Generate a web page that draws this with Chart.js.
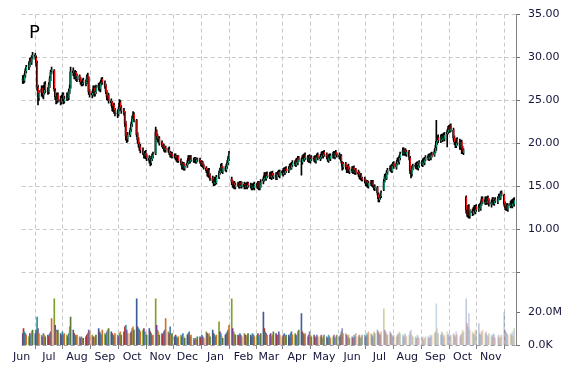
<!DOCTYPE html>
<html><head><meta charset="utf-8">
<script src="https://cdn.jsdelivr.net/npm/chart.js@4.4.1/dist/chart.umd.min.js"></script>
<style>html,body{margin:0;padding:0;background:#fff;}canvas{display:block;}</style>
</head><body>
<canvas id="c" width="570" height="370"></canvas>
<script>
const title = 'P';
const monthTickDays = [0,30,61,92,122,153,183,214,245,273,304,334,365,395,426,457,487,518];
const monthLabels = ['Jun','Jul','Aug','Sep','Oct','Nov','Dec','Jan','Feb','Mar','Apr','May','Jun','Jul','Aug','Sep','Oct','Nov'];
const priceTicks = [5,10,15,20,25,30,35];
const priceTickLabels = ['','10.00','15.00','20.00','25.00','30.00','35.00'];
const volumeTicks = [0,20];
const volumeTickLabels = ['0.0K','20.0M'];

const opens = [
27.3,27.7,27.3,27.9,28.4, 28.9,29.1,29.8,29.4,30.1, 30.3,30.0,29.4,26.5,25.3, 25.9,26.5,25.6,25.9,26.9,
26.2,26.0,26.8,27.6,28.4, 28.5,26.2,25.5,25.0,25.7, 25.2,24.8,25.3,25.7,24.9, 25.2,25.6,25.3,26.0,26.5,
28.5,28.1,27.8,28.3,27.5, 27.9,27.5,27.1,26.9,27.4, 27.0,27.2,27.9,27.6,26.1, 25.6,25.9,26.5,25.8,26.0,
26.5,26.9,26.3,27.0,27.5, 27.1,26.7,26.0,25.3,25.6, 25.0,24.8,24.0,24.5,23.9, 23.6,23.4,24.0,24.8,24.2,
23.8,23.5,22.4,20.9,20.5, 21.0,21.6,22.2,22.9,23.4, 22.7,21.1,20.5,19.9,19.6, 19.2,18.9,18.5,18.9,18.6,
18.3,18.1,17.7,18.2,18.5, 18.8,21.5,20.9,20.3,20.6, 20.1,19.8,19.7,19.2,19.5, 19.2,19.4,18.9,18.6,18.8,
18.5,18.6,18.4,18.0,18.5, 18.1,17.7,17.2,17.7,17.1, 17.4,17.7,18.4,17.9,18.5, 18.1,18.0,18.3,17.8,18.2,
18.1,17.9,17.5,17.8,17.5, 17.2,16.9,16.4,16.9,16.3, 16.0,15.7,15.3,15.9,15.4, 16.1,16.6,16.8,17.4,16.7,
17.1,16.9,17.3,17.7,18.2, 15.9,15.5,15.0,15.4,14.9, 15.3,15.3,14.9,15.5,15.0, 15.3,14.9,15.3,14.9,15.4,
15.0,15.2,14.8,15.2,14.8, 15.3,14.9,15.5,14.8,15.1, 15.6,15.8,16.4,15.9,16.5, 16.1,16.5,16.0,16.6,16.1,
16.4,15.9,16.5,16.7,16.2, 16.8,16.4,17.0,16.5,17.1, 16.8,17.0,17.5,17.1,17.5, 17.9,17.5,18.1,17.7,18.4,
18.0,17.8,18.5,18.1,18.7, 18.4,18.0,18.5,17.9,18.4, 18.1,18.4,17.9,18.5,18.7, 18.2,18.4,18.9,18.5,19.0,
18.8,18.5,18.0,18.6,18.2, 18.5,18.9,18.4,19.0,18.8, 18.7,18.3,18.6,17.8,17.2, 17.7,17.3,16.8,17.4,16.7,
17.1,16.7,17.2,16.6,17.0, 16.7,16.5,16.0,16.4,16.0, 15.9,15.7,15.2,15.6,15.0, 15.5,15.2,15.6,15.0,14.8,
14.9,14.1,13.4,13.8,13.9, 14.6,15.7,16.3,15.9,16.6, 17.0,17.3,16.8,17.5,17.7, 17.2,17.6,18.2,17.8,18.3,
18.8,19.3,18.8,19.2,18.7, 19.1,18.3,16.9,16.4,17.1, 17.5,17.2,17.7,17.1,17.4, 17.9,17.5,18.1,17.7,18.1,
18.5,18.2,18.7,18.3,18.8, 18.6,19.0,19.6,20.2,20.7, 20.3,20.9,20.4,21.0,20.5, 21.1,21.3,21.9,21.5,22.1,
21.6,20.7,20.2,19.7,20.5, 20.2,19.5,20.2,19.5,18.9, 13.8,12.3,11.7,12.7,11.5, 12.2,11.8,12.5,12.0,12.7,
12.2,12.8,12.4,12.9,13.6, 13.1,13.6,13.1,13.7,13.4, 12.9,13.1,13.6,13.0,13.5, 13.2,13.5,14.0,13.6,14.3,
14.0,13.0,12.4,12.8,12.3, 12.7,13.2,12.7,13.4,12.9
];
const highs = [
27.9,27.9,28.1,28.7,29.1, 29.5,29.9,30.0,30.2,30.6, 30.5,30.2,29.6,26.8,26.2, 26.7,26.7,26.2,27.1,27.2,
26.5,27.1,27.8,28.5,28.9, 28.6,26.4,25.8,25.9,25.9, 25.5,25.6,25.9,25.9,25.5, 25.9,25.8,26.3,26.8,28.9,
28.8,28.4,28.5,28.4,28.1, 28.0,27.7,27.3,27.5,27.6, 27.4,28.0,28.2,27.8,26.3, 26.1,26.7,26.7,26.3,26.8,
27.0,27.1,27.2,27.6,27.7, 27.3,26.9,26.2,25.9,25.8, 25.2,24.9,24.6,24.7,24.1, 23.9,24.2,25.1,25.0,24.4,
24.1,23.7,22.6,21.3,21.3, 21.8,22.5,23.2,23.7,23.6, 22.8,21.3,20.7,20.1,19.9, 19.5,19.1,19.1,19.2,18.8,
18.6,18.2,18.5,18.8,19.0, 21.9,21.6,21.1,20.8,20.8, 20.3,20.0,19.9,19.7,19.7, 19.5,19.6,19.1,19.0,19.0,
18.8,18.8,18.6,18.6,18.6, 18.2,17.9,17.8,17.8,17.6, 18.0,18.6,18.6,18.6,18.6, 18.3,18.4,18.4,18.3,18.3,
18.3,18.0,18.0,17.9,17.6, 17.3,17.0,17.1,17.1,16.5, 16.2,15.9,16.1,16.1,16.3, 16.8,17.1,17.6,17.7,17.3,
17.3,17.6,18.0,18.5,19.1, 16.1,15.7,15.5,15.6,15.4, 15.5,15.4,15.6,15.6,15.5, 15.5,15.4,15.4,15.5,15.5,
15.4,15.3,15.3,15.4,15.5, 15.4,15.6,15.6,15.4,15.8, 16.1,16.6,16.6,16.6,16.7, 16.6,16.7,16.7,16.8,16.5,
16.6,16.6,16.8,16.9,16.9, 16.9,17.1,17.2,17.2,17.3, 17.3,17.6,17.7,17.8,18.0, 18.0,18.2,18.3,18.5,18.5,
18.2,18.6,18.7,18.8,18.9, 18.6,18.6,18.7,18.5,18.6, 18.5,18.6,18.6,18.8,18.9, 18.7,19.0,19.1,19.1,19.2,
18.9,18.7,18.7,18.8,18.8, 19.0,19.1,19.1,19.2,18.9, 18.9,18.7,18.7,17.9,17.8, 17.8,17.5,17.5,17.6,17.2,
17.3,17.3,17.4,17.1,17.1, 16.9,16.7,16.5,16.5,16.1, 16.1,15.8,15.7,15.7,15.6, 15.7,15.7,15.7,15.2,15.2,
15.0,14.3,13.9,14.1,14.5, 15.8,16.4,16.5,16.8,17.1, 17.4,17.5,17.6,17.8,17.9, 17.9,18.3,18.4,18.6,19.0,
19.5,19.5,19.3,19.4,19.2, 19.2,18.5,17.1,17.4,17.6, 17.7,17.8,17.9,17.7,18.0, 18.0,18.2,18.3,18.4,18.6,
18.7,18.8,18.8,18.9,19.0, 19.3,19.8,22.7,20.9,21.0, 21.0,21.1,21.1,21.2,21.3, 21.6,22.0,22.1,22.2,22.3,
21.8,20.9,20.4,20.6,20.7, 20.5,20.3,20.4,19.7,19.4, 13.9,12.6,12.8,12.9,12.3, 12.4,12.6,12.8,12.8,12.9,
12.9,13.0,13.2,13.8,13.8, 13.8,13.8,13.8,13.9,13.6, 13.4,13.7,13.7,13.6,13.7, 13.8,14.1,14.1,14.4,14.5,
14.1,13.2,12.9,13.0,13.0, 13.3,13.4,13.5,13.6,13.7
];
const lows = [
27.0,27.0,27.1,27.7,28.2, 28.6,28.9,29.2,29.2,29.8, 29.8,29.0,26.2,24.5,25.0, 25.5,25.4,25.2,25.7,25.9,
25.7,25.8,26.5,27.3,28.1, 26.1,25.1,24.6,24.7,24.8, 24.5,24.6,25.1,24.6,24.7, 25.0,25.0,25.1,25.8,26.4,
27.9,27.5,27.5,27.3,27.2, 27.2,26.9,26.7,26.7,26.8, 26.7,27.0,27.2,25.7,25.4, 25.3,25.7,25.5,25.5,25.8,
26.2,26.1,26.0,26.8,26.9, 26.4,25.8,25.1,25.0,24.7, 24.4,23.8,23.7,23.5,23.2, 23.0,23.2,23.8,24.0,23.5,
23.3,22.0,20.4,20.1,20.2, 20.8,21.4,22.0,22.7,22.5, 20.8,20.1,19.6,19.2,18.9, 18.7,18.3,18.3,18.2,18.0,
17.7,17.4,17.5,18.0,18.3, 18.7,20.6,20.2,20.1,19.8, 19.6,19.4,19.1,19.0,19.0, 19.0,18.7,18.4,18.4,18.3,
18.3,18.1,17.9,17.8,17.8, 17.5,17.0,17.0,16.9,16.9, 17.2,17.6,17.7,17.7,17.9, 17.8,17.8,17.7,17.7,17.9,
17.7,17.4,17.3,17.2,17.0, 16.6,16.2,16.1,16.0,15.7, 15.4,15.1,15.1,15.2,15.3, 15.9,16.4,16.6,16.6,16.5,
16.8,16.7,17.1,17.5,18.0, 15.2,14.9,14.8,14.7,14.7, 15.0,14.8,14.8,14.9,14.8, 14.7,14.7,14.8,14.7,14.9,
14.8,14.6,14.6,14.7,14.6, 14.8,14.7,14.6,14.6,14.9, 15.3,15.6,15.8,15.7,16.0, 15.9,15.9,15.8,16.0,15.9,
15.8,15.8,16.3,16.1,16.0, 16.3,16.2,16.4,16.4,16.6, 16.6,16.9,17.0,17.0,17.3, 17.4,17.3,17.6,17.5,17.9,
16.3,17.6,18.0,17.9,18.1, 17.9,17.8,17.8,17.7,18.0, 17.9,17.8,17.7,18.3,18.1, 18.0,18.2,18.4,18.3,18.5,
18.2,17.9,17.8,18.1,18.0, 18.3,18.3,18.2,18.5,18.4, 18.2,18.1,17.7,16.9,17.0, 17.0,16.6,16.6,16.6,16.5,
16.6,16.5,16.5,16.4,16.4, 16.2,15.9,15.8,15.7,15.6, 15.4,15.1,15.0,14.9,14.8, 15.1,15.0,14.9,14.6,14.5,
14.0,13.2,13.2,13.5,13.7, 14.5,15.5,15.8,15.8,16.4, 16.8,16.7,16.6,17.3,17.1, 17.0,17.5,17.7,17.6,18.1,
18.6,18.7,18.6,18.6,18.5, 18.1,16.5,16.0,16.2,16.9, 17.1,17.0,17.0,16.9,17.2, 17.4,17.3,17.6,17.5,18.0,
18.1,18.0,18.2,18.1,18.4, 18.5,18.9,19.2,19.9,20.1, 20.1,20.3,20.2,20.4,20.3, 19.6,21.1,21.3,21.3,21.4,
20.4,19.9,19.5,19.5,19.8, 19.3,19.3,18.8,18.8,18.7, 11.9,11.5,11.4,11.3,11.3, 11.6,11.7,11.9,11.8,12.1,
12.1,12.3,12.2,12.8,13.0, 12.9,12.9,12.9,13.1,12.7, 12.6,12.9,12.9,12.8,13.1, 13.0,13.4,13.5,13.5,13.9,
12.7,12.3,12.2,12.2,12.1, 12.5,12.6,12.5,12.8,12.7
];
const closes = [
27.6,27.3,27.9,28.5,28.9, 29.2,29.7,29.5,30.0,30.3, 30.1,29.3,26.6,25.4,25.9, 26.4,25.7,25.9,26.8,26.2,
26.0,26.9,27.6,28.3,28.6, 26.3,25.4,25.0,25.6,25.1, 24.8,25.3,25.6,24.9,25.2, 25.6,25.3,26.1,26.5,28.4,
28.2,27.8,28.3,27.6,27.9, 27.4,27.1,26.9,27.3,27.0, 27.2,27.8,27.5,26.0,25.7, 25.9,26.4,25.8,26.1,26.5,
26.8,26.3,27.0,27.4,27.1, 26.6,26.0,25.4,25.6,25.0, 24.7,24.1,24.4,23.8,23.6, 23.4,24.0,24.7,24.2,23.8,
23.6,22.3,20.8,20.5,21.0, 21.6,22.3,22.9,23.4,22.8, 21.0,20.4,19.9,19.5,19.2, 18.9,18.6,18.9,18.5,18.3,
18.0,17.7,18.3,18.5,18.7, 21.4,20.8,20.4,20.6,20.0, 19.8,19.6,19.3,19.5,19.2, 19.3,18.9,18.6,18.8,18.5,
18.6,18.3,18.1,18.4,18.0, 17.7,17.3,17.6,17.1,17.4, 17.8,18.3,17.9,18.4,18.1, 18.0,18.3,17.9,18.2,18.1,
17.9,17.6,17.8,17.4,17.2, 16.8,16.5,16.9,16.2,16.0, 15.6,15.4,15.9,15.5,16.1, 16.6,16.9,17.3,16.8,17.1,
17.0,17.4,17.8,18.3,18.8, 15.5,15.1,15.3,14.9,15.2, 15.2,15.0,15.4,15.1,15.3, 14.9,15.2,15.0,15.3,15.1,
15.2,14.8,15.1,14.9,15.3, 15.0,15.4,14.9,15.2,15.5, 15.9,16.3,16.0,16.4,16.2, 16.4,16.1,16.5,16.2,16.3,
16.0,16.4,16.6,16.3,16.7, 16.5,16.9,16.6,17.0,16.8, 17.1,17.4,17.2,17.6,17.8, 17.6,18.0,17.8,18.3,18.1,
17.9,18.4,18.2,18.6,18.3, 18.1,18.4,18.0,18.3,18.2, 18.3,18.0,18.4,18.6,18.3, 18.5,18.8,18.6,18.9,18.7,
18.4,18.1,18.5,18.3,18.6, 18.8,18.5,18.9,18.7,18.6, 18.4,18.5,17.9,17.3,17.6, 17.2,16.9,17.3,16.8,17.0,
16.8,17.1,16.7,16.9,16.6, 16.4,16.1,16.3,15.9,15.8, 15.6,15.3,15.5,15.1,15.4, 15.3,15.5,15.1,14.9,15.0,
14.2,13.5,13.7,13.9,14.3, 15.6,16.2,16.0,16.6,16.9, 17.2,16.9,17.4,17.6,17.3, 17.7,18.1,17.9,18.4,18.8,
19.2,18.9,19.1,18.8,19.0, 18.4,16.8,16.5,17.2,17.4, 17.3,17.6,17.2,17.5,17.8, 17.6,18.0,17.8,18.2,18.4,
18.3,18.6,18.4,18.7,18.6, 19.1,19.5,20.3,20.6,20.4, 20.8,20.5,20.9,20.6,21.0, 21.4,21.8,21.6,22.0,21.7,
20.6,20.1,19.8,20.4,20.0, 19.6,20.1,19.4,19.0,19.2, 12.2,11.8,12.6,11.6,12.1, 11.9,12.4,12.1,12.6,12.3,
12.7,12.5,13.0,13.5,13.2, 13.5,13.2,13.6,13.3,13.0, 13.2,13.5,13.1,13.4,13.3, 13.6,13.9,13.7,14.2,14.1,
12.9,12.5,12.7,12.4,12.8, 13.1,12.8,13.3,13.0,13.4
];
// volume in millions of shares
const volumes = [
7,10,8,7,6, 5,7,6,8,9, 7,9,17,10,7, 6,5,7,6,5,
6,5,7,8,16, 28,12,9,8,9, 7,6,8,6,7, 6,5,7,11,17,
9,7,6,5,6, 5,4,5,4,4, 5,6,7,9,8, 6,5,4,5,6,
10,8,7,6,9, 7,6,8,9,10, 8,7,6,5,7, 6,5,7,8,6,
8,11,12,9,7, 7,8,10,11,9, 28,11,10,9,8, 9,10,8,7,6,
10,8,7,5,6, 28,12,9,8,6, 7,6,8,9,16, 8,7,11,6,7,
5,6,5,4,5, 6,5,7,5,4, 6,7,8,5,6, 4,3,4,3,5,
5,4,6,5,4, 8,7,6,7,5, 9,7,6,5,6, 14,8,7,5,4,
6,7,8,9,12, 28,10,8,7,6, 6,5,7,6,5, 7,6,5,6,7,
6,5,7,6,5, 6,7,5,6,7, 20,10,8,7,6, 6,7,5,6,8,
7,6,5,8,6, 5,6,7,5,6, 6,5,7,8,6, 7,6,5,8,9,
19,8,7,6,7, 5,6,8,6,5, 6,5,4,6,5, 5,6,4,5,6,
5,4,6,5,4, 5,6,4,5,6, 5,6,8,10,7, 7,6,5,6,4,
5,4,6,5,7, 5,6,4,5,6, 6,5,7,6,8, 7,6,5,8,7,
9,8,7,6,8, 22,9,8,7,6, 8,7,6,5,6, 5,6,7,8,7,
6,5,7,6,5, 6,8,9,6,5, 5,4,6,5,4, 4,5,3,4,5,
5,4,6,5,6, 7,8,25,10,7, 6,8,7,5,6, 8,6,7,5,6,
7,6,5,8,6, 5,6,7,9,8, 28,13,11,19,9, 8,7,6,9,8,
13,7,6,8,9, 7,8,6,5,7, 6,5,7,6,4, 5,6,4,5,6,
20,9,8,7,6, 7,6,8,5,10
];

// axis ranges chosen so the panes line up like the original
const P_MIN = -3.4535, P_MAX = 35, V_MIN = 0, V_MAX = 200.4, X_MAX = 546;
const volToPrice = v => P_MIN + (v - V_MIN) / (V_MAX - V_MIN) * (P_MAX - P_MIN);

// trading days (weekdays) as day offsets from 1 Jun 2014 (a Sunday)
const tradingDays = [];
for (let d = 1; tradingDays.length < closes.length; d++) {
  const w = d % 7;
  if (w !== 0 && w !== 6) tradingDays.push(d);
}

const UP = '#12996f', DOWN = '#f01010';
const volPalette = ['#3d5a99','#b03030','#2a8fa0','#6b5b9a','#d0702a','#7f9f2f','#8a3a8a','#4a7ab8','#c8902a','#5a7a3a'];
function rgba(hex, a) {
  const n = parseInt(hex.slice(1), 16);
  return 'rgba(' + ((n >> 16) & 255) + ',' + ((n >> 8) & 255) + ',' + (n & 255) + ',' + a + ')';
}
const volColors = volumes.map((v, i) => {
  const a = i < 215 ? 1 : Math.max(0.3, 1 - (i - 215) * 0.008);
  return rgba(volPalette[i % volPalette.length], a);
});

const font = { family: 'DejaVu Sans', size: 11 };
const labelColor = '#14143a';

const titlePlugin = {
  id: 'titleP',
  afterDraw(chart) {
    const ctx = chart.ctx;
    ctx.save();
    ctx.font = '18px "DejaVu Sans"';
    ctx.fillStyle = '#000';
    ctx.textBaseline = 'alphabetic';
    ctx.fillText(title, 29, 38);
    ctx.restore();
  }
};

new Chart(document.getElementById('c'), {
  type: 'bar',
  data: {
    datasets: [
      {
        label: 'body',
        data: tradingDays.map((d, i) => ({ x: d, y: [opens[i], closes[i]] })),
        backgroundColor: closes.map((c, i) => c >= opens[i] ? UP : DOWN),
        borderColor: '#000',
        borderWidth: { left: 1, right: 0, top: 0, bottom: 0 },
        borderSkipped: false,
        barThickness: 2,
        grouped: false,
        order: 0,
        yAxisID: 'y'
      },
      {
        label: 'wick',
        data: tradingDays.map((d, i) => ({ x: d, y: [lows[i], highs[i]] })),
        backgroundColor: '#000',
        barThickness: 1,
        grouped: false,
        order: 1,
        yAxisID: 'y'
      },
      {
        label: 'volume',
        data: tradingDays.map((d, i) => ({ x: d, y: volumes[i] })),
        backgroundColor: volColors,
        barThickness: 1,
        grouped: false,
        order: 2,
        yAxisID: 'yv'
      }
    ]
  },
  options: {
    responsive: false,
    animation: false,
    devicePixelRatio: 1,
    events: [],
    layout: { padding: { left: 21.7, top: 14.3, right: 0, bottom: 0 } },
    plugins: { legend: { display: false }, tooltip: { enabled: false }, title: { display: false } },
    scales: {
      x: {
        type: 'linear',
        min: 0,
        max: X_MAX,
        offset: false,
        afterBuildTicks: s => { s.ticks = monthTickDays.map(v => ({ value: v })); },
        afterFit: s => { s.height = 25; },
        ticks: {
          autoSkip: false, maxRotation: 0, minRotation: 0,
          callback: (v, i) => monthLabels[i],
          font: font, color: labelColor, padding: 2
        },
        grid: { color: '#c8c8c8', lineWidth: 1, tickColor: '#808080', tickLength: 4 },
        border: { display: false, dash: [4, 3] }
      },
      y: {
        type: 'linear',
        position: 'right',
        min: P_MIN,
        max: P_MAX,
        afterBuildTicks: s => {
          s.ticks = volumeTicks.map(v => ({ value: volToPrice(v) }))
            .concat(priceTicks.map(v => ({ value: v })));
        },
        afterFit: s => { s.width = 54; },
        ticks: {
          autoSkip: false,
          callback: (v, i) => i < volumeTicks.length ? volumeTickLabels[i] : priceTickLabels[i - volumeTicks.length],
          font: font, color: labelColor, padding: 8
        },
        grid: {
          color: c => (c.index === 0 ? '#9a9aaa' : c.index >= volumeTicks.length ? '#c8c8c8' : 'rgba(0,0,0,0)'),
          lineWidth: 1, tickColor: '#707070', tickLength: 4
        },
        border: { display: true, color: '#808080', dash: [4, 3] }
      },
      yv: {
        type: 'linear',
        display: false,
        min: V_MIN,
        max: V_MAX
      }
    }
  },
  plugins: [titlePlugin]
});
</script>
</body></html>
